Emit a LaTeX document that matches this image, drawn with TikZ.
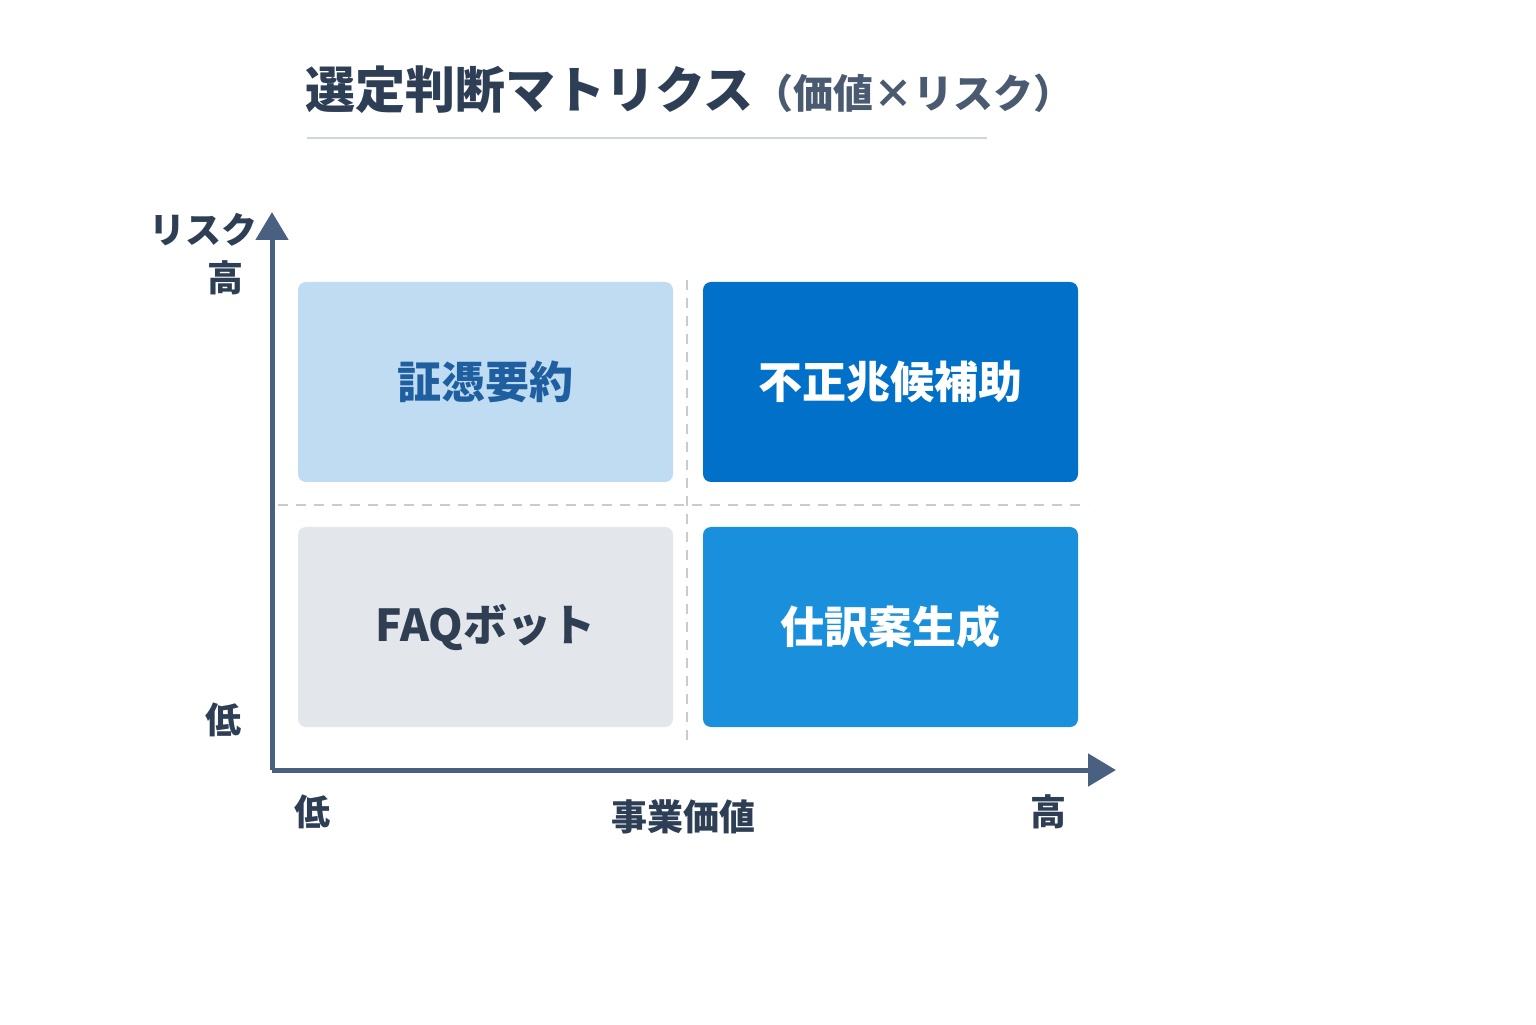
\documentclass[tikz,border=0pt]{standalone}
\usepackage{fontspec}
\setmainfont{Noto Sans CJK JP}
\usetikzlibrary{arrows.meta}
\definecolor{axisc}{HTML}{4A6080}
\definecolor{titlec}{HTML}{2D3E55}
\definecolor{subc}{HTML}{4A5A70}
\definecolor{gridc}{HTML}{C8CCD2}
\definecolor{lineb}{HTML}{CFD5DD}
\definecolor{tlc}{HTML}{BFDCF2}
\definecolor{tlt}{HTML}{1F5FA0}
\definecolor{trc}{HTML}{0070C8}
\definecolor{blc}{HTML}{E3E7EC}
\definecolor{blt}{HTML}{2F3E52}
\definecolor{brc}{HTML}{1A90DC}
\tikzset{
  cell/.style={rounded corners=4pt, minimum width=187.5pt, minimum height=100pt,
    font=\fontsize{22}{26}\selectfont\bfseries},
  axlabel/.style={font=\fontsize{18}{20}\selectfont\bfseries, text=titlec},
  axisline/.style={axisc, line width=2.5pt, -{Triangle[length=14pt,width=16pt]}}
}
\begin{document}
\begin{tikzpicture}[x=0.5pt,y=0.5pt]
    \useasboundingbox[fill=white] (0,0) rectangle (1536,1024);

    % title
    \node [anchor=west, inner sep=0pt, name=title] at (305,934)
      {\fontsize{25}{28}\selectfont\bfseries\color{titlec}選定判断マトリクス%
       \fontsize{20}{24}\selectfont\color{subc}（価値×リスク）};
    \coordinate (u1) at (307,886);
    \coordinate (u2) at (987,886);
    \draw [lineb, line width=1.2pt] (u1) -- (u2);

    % grid
    \coordinate (v1) at (687,744);
    \coordinate (v2) at (687,282);
    \coordinate (h1) at (278,519);
    \coordinate (h2) at (1088,519);
    \draw [gridc, line width=1.2pt, dash pattern=on 5pt off 4pt] (v1) -- (v2);
    \draw [gridc, line width=1.2pt, dash pattern=on 5pt off 4pt] (h1) -- (h2);

    % quadrants
    \node [cell, fill=tlc, text=tlt, name=q1] at (485.5,642) {証憑要約};
    \node [cell, fill=trc, text=white, name=q2] at (890.5,642) {不正兆候補助};
    \node [cell, fill=blc, text=blt, name=q3] at (485.5,397) {FAQボット};
    \node [cell, fill=brc, text=white, name=q4] at (890.5,397) {仕訳案生成};

    % axes
    \coordinate (o) at (272,254);
    \coordinate (ytip) at (272,812);
    \coordinate (xtip) at (1116,254);
    \draw [axisline] (o) -- (ytip);
    \draw [axisline] (o) -- (xtip);

    % axis labels
    \node [axlabel, name=yname] at (203,794) {リスク};
    \node [axlabel, name=yhigh] at (225,746) {高};
    \node [axlabel, name=ylow] at (223,304) {低};
    \node [axlabel, name=xlow] at (312,212) {低};
    \node [axlabel, name=xname] at (683,207) {事業価値};
    \node [axlabel, name=xhigh] at (1048,212) {高};
\end{tikzpicture}
\end{document}
